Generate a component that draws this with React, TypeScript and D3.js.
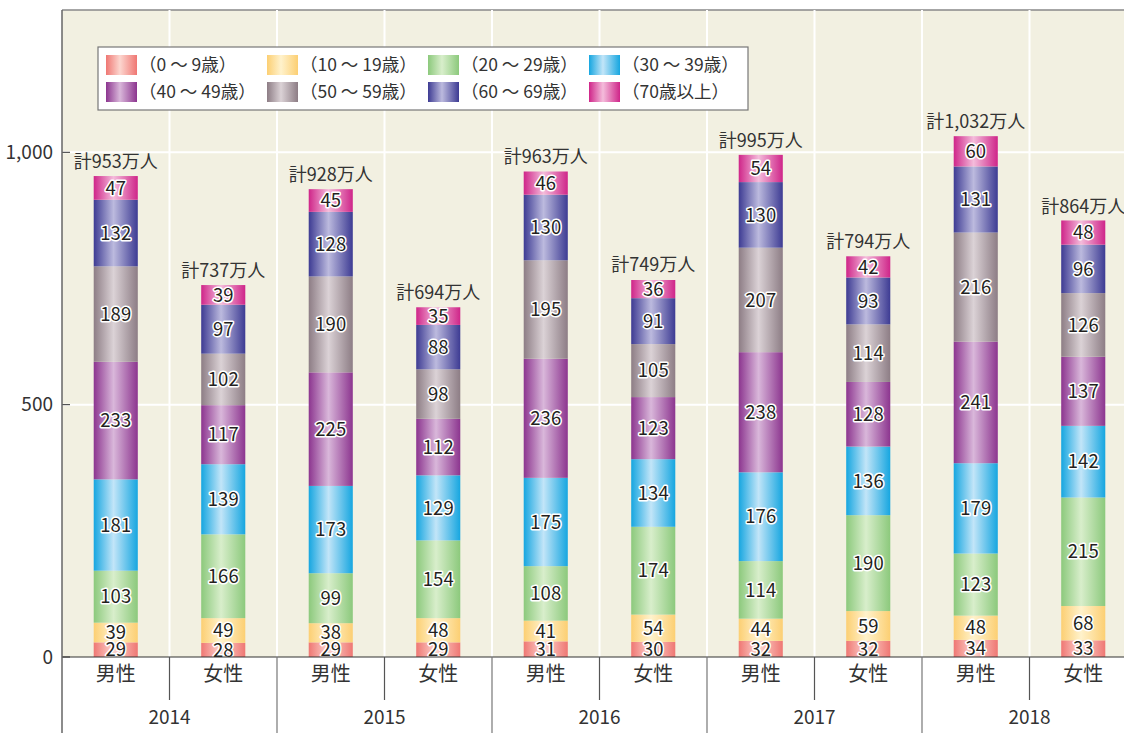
import * as d3 from "d3";

const years = ["2014", "2015", "2016", "2017", "2018"];
const sexes = ["男性", "女性"];
const ageGroups = [
  "（0 ～ 9歳）",
  "（10 ～ 19歳）",
  "（20 ～ 29歳）",
  "（30 ～ 39歳）",
  "（40 ～ 49歳）",
  "（50 ～ 59歳）",
  "（60 ～ 69歳）",
  "（70歳以上）",
];

// values per bar, bottom (0-9) to top (70+)
const male2014 = [29, 39, 103, 181, 233, 189, 132, 47];
const female2014 = [28, 49, 166, 139, 117, 102, 97, 39];
const male2015 = [29, 38, 99, 173, 225, 190, 128, 45];
const female2015 = [29, 48, 154, 129, 112, 98, 88, 35];
const male2016 = [31, 41, 108, 175, 236, 195, 130, 46];
const female2016 = [30, 54, 174, 134, 123, 105, 91, 36];
const male2017 = [32, 44, 114, 176, 238, 207, 130, 54];
const female2017 = [32, 59, 190, 136, 128, 114, 93, 42];
const male2018 = [34, 48, 123, 179, 241, 216, 131, 60];
const female2018 = [33, 68, 215, 142, 137, 126, 96, 48];

const totals = [953, 737, 928, 694, 963, 749, 995, 794, 1032, 864];
const yTicks = [0, 500, 1000];

// [edge, centre] colours for each age group
const palette = [
  ["#ef7773", "#fcd6cf"],
  ["#fccf73", "#fff2cc"],
  ["#8cc97c", "#d8eecb"],
  ["#16a6e0", "#c2e5f8"],
  ["#8c358f", "#d9b7da"],
  ["#8d7d85", "#dbd2d6"],
  ["#3d3b93", "#bcbade"],
  ["#cf2589", "#f4bcdb"],
];

const series = [
  male2014, female2014, male2015, female2015, male2016,
  female2016, male2017, female2017, male2018, female2018,
];

const W = 1124;
const H = 733;
const left = 62;
const top = 10;
const zeroY = 657;

const fmt = d3.format(",");

export default function App() {
  const keys = years.flatMap((y) => sexes.map((s) => `${y}-${s}`));
  const x = d3
    .scaleBand<string>()
    .domain(keys)
    .range([left, left + 1075])
    .paddingInner(0.59)
    .paddingOuter(0.295);
  const y = d3.scaleLinear().domain([0, 1282]).range([zeroY, top]);
  const step = x.step();
  const font = "'Noto Sans CJK JP', 'Noto Sans', sans-serif";

  const bars = series.map((vals, i) => {
    let acc = 0;
    const segs = vals.map((v, k) => {
      const s = { k, v, y0: acc, y1: acc + v };
      acc += v;
      return s;
    });
    return { key: keys[i], segs, total: totals[i] };
  });

  return (
    <svg
      width={W}
      height={H}
      style={{ position: "absolute", left: 0, top: 0, background: "#fff" }}
      fontFamily={font}
    >
      <defs>
        {palette.map(([edge, mid], i) => (
          <linearGradient key={i} id={`g${i}`} x1="0" x2="1" y1="0" y2="0">
            <stop offset="0" stopColor={edge} />
            <stop offset="0.45" stopColor={mid} />
            <stop offset="1" stopColor={edge} />
          </linearGradient>
        ))}
      </defs>

      {/* plot background */}
      <rect x={left} y={top} width={W - left} height={zeroY - top} fill="#f2f0e1" />
      <line x1={left} x2={W} y1={top} y2={top} stroke="#888" strokeWidth={1.5} />

      {/* grid */}
      {d3.range(1, 10).map((i) => (
        <line
          key={i}
          x1={left + i * step}
          x2={left + i * step}
          y1={top}
          y2={zeroY}
          stroke="#fff"
          strokeWidth={2}
        />
      ))}
      {yTicks.slice(1).map((t) => (
        <line key={t} x1={left} x2={W} y1={y(t)} y2={y(t)} stroke="#fff" strokeWidth={2} />
      ))}

      {/* y axis */}
      {yTicks.map((t) => (
        <g key={t}>
          <line x1={left} x2={left + 8} y1={y(t)} y2={y(t)} stroke="#333" strokeWidth={1} />
          <text
            x={53}
            y={y(t)}
            dy="0.35em"
            textAnchor="end"
            fontSize={19}
            fill="#333"
          >
            {fmt(t)}
          </text>
        </g>
      ))}

      {/* bars */}
      {bars.map((b) => (
        <g key={b.key}>
          {b.segs.map((s) => (
            <rect
              key={s.k}
              x={x(b.key)}
              y={y(s.y1)}
              width={x.bandwidth()}
              height={y(s.y0) - y(s.y1)}
              fill={`url(#g${s.k})`}
            />
          ))}
          {b.segs.map((s) => (
            <text
              key={s.k}
              x={x(b.key)! + x.bandwidth() / 2}
              y={(y(s.y0) + y(s.y1)) / 2}
              dy="0.36em"
              textAnchor="middle"
              fontSize={18.5}
              fill="#231f20"
              stroke="#fff"
              strokeWidth={3}
              strokeLinejoin="round"
              paintOrder="stroke"
            >
              {s.v}
            </text>
          ))}
          <text
            x={x(b.key)! + x.bandwidth() / 2}
            y={y(b.total) - 8}
            textAnchor="middle"
            fontSize={18}
            fill="#333"
          >
            {`計${fmt(b.total)}万人`}
          </text>
        </g>
      ))}

      {/* bottom axis */}
      <line x1={left} x2={W} y1={zeroY} y2={zeroY} stroke="#333" strokeWidth={1.2} />
      <line x1={left} x2={left} y1={top} y2={H} stroke="#666" strokeWidth={1.5} />
      {keys.map((k, i) => (
        <text
          key={k}
          x={x(k)! + x.bandwidth() / 2}
          y={674}
          dy="0.35em"
          textAnchor="middle"
          fontSize={20}
          fill="#333"
        >
          {sexes[i % 2]}
        </text>
      ))}
      {years.map((yr, j) => (
        <g key={yr}>
          <line
            x1={left + (2 * j + 1) * step}
            x2={left + (2 * j + 1) * step}
            y1={zeroY}
            y2={700}
            stroke="#555"
            strokeWidth={1.2}
          />
          {j > 0 && (
            <line
              x1={left + 2 * j * step}
              x2={left + 2 * j * step}
              y1={zeroY}
              y2={H}
              stroke="#777"
              strokeWidth={1.2}
            />
          )}
          <text
            x={left + (2 * j + 1) * step}
            y={717}
            dy="0.35em"
            textAnchor="middle"
            fontSize={19}
            fill="#333"
          >
            {yr}
          </text>
        </g>
      ))}

      {/* legend */}
      <rect x={98} y={47} width={650} height={63} fill="#fff" stroke="#777" strokeWidth={1.2} />
      {ageGroups.map((g, i) => {
        const col = i % 4;
        const row = Math.floor(i / 4);
        const lx = 106 + col * 161;
        const ly = 55 + row * 27;
        return (
          <g key={g}>
            <rect x={lx} y={ly} width={31} height={20} fill={`url(#g${i})`} />
            <text x={lx + 33} y={ly + 10} dy="0.36em" fontSize={17.5} fill="#333">
              {g}
            </text>
          </g>
        );
      })}
    </svg>
  );
}
